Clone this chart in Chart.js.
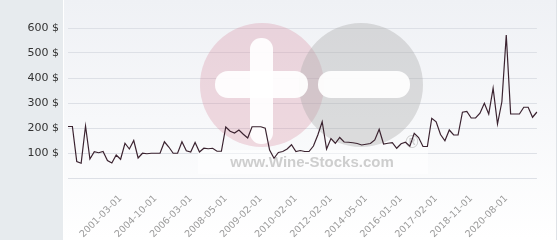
<!DOCTYPE html>
<html>
<head>
<meta charset="utf-8">
<script src="https://cdn.jsdelivr.net/npm/chart.js@4/dist/chart.umd.min.js"></script>
<style>
  html, body { margin: 0; padding: 0; background: #ffffff; }
  #wrap { width: 560px; height: 240px; position: relative; }
</style>
</head>
<body>
<div id="wrap"><canvas id="c" width="560" height="240"></canvas></div>
<script>
// ---- data ----
const prices = [
  206, 206, 66, 59, 208, 76, 105, 101, 106, 70,
  60, 92, 75, 139, 116, 150, 80, 99, 97, 99,
  99, 99, 145, 124, 99, 99, 145, 109, 104, 142,
  104, 119, 117, 119, 107, 107, 204, 187, 180, 192,
  175, 160, 205, 205, 205, 199, 112, 79, 102, 106,
  116, 133, 106, 110, 106, 106, 128, 172, 225, 116,
  158, 139, 162, 144, 143, 141, 138, 132, 135, 138,
  152, 195, 136, 139, 141, 119, 137, 143, 127, 179,
  162, 126, 126, 239, 225, 174, 149, 192, 172, 172,
  263, 266, 240, 240, 259, 299, 256, 359, 216, 305,
  572, 256, 256, 256, 283, 283, 243, 264
];
const tickDates = [
  '2001-03-01', '2004-10-01', '2006-03-01', '2008-05-01', '2009-02-01', '2010-02-01',
  '2012-02-01', '2014-05-01', '2016-01-01', '2017-02-01', '2018-11-01', '2020-08-01'
];
const firstTickIndex = 12;
const tickEvery = 8;
const yTicks = [100, 200, 300, 400, 500, 600];
const currency = '$';

const categories = prices.map((_, i) => {
  const k = i - firstTickIndex;
  return (k >= 0 && k % tickEvery === 0 && tickDates[k / tickEvery]) ? tickDates[k / tickEvery] : '';
});

// ---- background + watermark ----
const backdrop = {
  id: 'backdrop',
  beforeDraw(chart) {
    const ctx = chart.ctx;
    const H = chart.height;
    ctx.save();
    ctx.fillStyle = '#e7ebee';
    ctx.fillRect(0, 0, 63, H);
    ctx.fillStyle = '#ffffff';
    ctx.fillRect(63, 0, 1, H);
    const g = ctx.createLinearGradient(0, 0, 0, H);
    g.addColorStop(0, '#eff1f5');
    g.addColorStop(1, '#ffffff');
    ctx.fillStyle = g;
    ctx.fillRect(64, 0, 492, H);
    ctx.fillStyle = '#dfe3e7';
    ctx.fillRect(556, 0, 1, H);
    ctx.restore();
  },
  beforeDatasetsDraw(chart) {
    const ctx = chart.ctx;
    ctx.save();
    // pink circle
    ctx.fillStyle = 'rgba(215,140,160,0.3)';
    ctx.beginPath(); ctx.arc(262, 85, 62, 0, Math.PI * 2); ctx.fill();
    // gray circle
    ctx.fillStyle = 'rgba(170,170,170,0.38)';
    ctx.beginPath(); ctx.arc(361, 85, 62, 0, Math.PI * 2); ctx.fill();
    // plus and minus
    ctx.fillStyle = 'rgba(255,255,255,0.92)';
    const rr = (x, y, w, h, r) => { ctx.beginPath(); ctx.roundRect(x, y, w, h, r); ctx.fill(); };
    rr(250, 38, 23, 106, 11);
    rr(215, 71, 93, 27, 13);
    rr(318, 71, 92, 27, 13);
    // text band
    ctx.fillStyle = 'rgba(255,255,255,0.5)';
    ctx.fillRect(198, 150, 230, 24);
    ctx.font = 'bold 15px "Liberation Sans", Arial, sans-serif';
    ctx.fillStyle = 'rgba(185,185,185,0.7)';
    ctx.textAlign = 'center';
    ctx.textBaseline = 'alphabetic';
    ctx.fillText('www.Wine-Stocks.com', 312, 167);
    ctx.font = '17px "DejaVu Sans", sans-serif';
    ctx.fillStyle = 'rgba(180,180,180,0.65)';
    ctx.fillText('\u00AE', 412, 148);
    ctx.restore();
  }
};

new Chart(document.getElementById('c'), {
  type: 'line',
  data: {
    labels: categories,
    datasets: [{
      data: prices,
      borderColor: '#3b2330',
      borderWidth: 1.2,
      pointRadius: 0,
      tension: 0,
      fill: false
    }]
  },
  options: {
    responsive: false,
    animation: false,
    events: [],
    layout: { padding: { top: 28, right: 5, bottom: 0, left: 0 } },
    plugins: { legend: { display: false }, tooltip: { enabled: false } },
    scales: {
      x: {
        type: 'category',
        offset: false,
        grid: { display: false, drawTicks: false },
        border: { display: false },
        afterFit(scale) { scale.height = 62; },
        ticks: {
          autoSkip: false,
          minRotation: 45,
          maxRotation: 45,
          padding: 15,
          color: '#9a9a9a',
          font: { family: '"DejaVu Sans", sans-serif', size: 9.5 }
        }
      },
      y: {
        min: 0,
        max: 600,
        afterFit(scale) { scale.width = 68; },
        afterBuildTicks(scale) {
          scale.ticks = [0].concat(yTicks).map(v => ({ value: v }));
        },
        grid: { color: '#dde0e6', lineWidth: 1, drawTicks: false },
        border: { display: false },
        ticks: {
          padding: 9,
          color: '#333333',
          font: { family: '"DejaVu Sans", sans-serif', size: 11 },
          callback: v => (v === 0 ? '' : v + ' ' + currency)
        }
      }
    }
  },
  plugins: [backdrop]
});
</script>
</body>
</html>
